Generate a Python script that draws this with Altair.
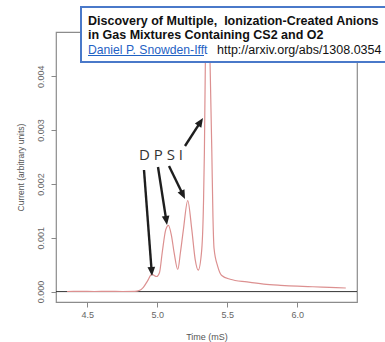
import math
import altair as alt
import pandas as pd

# ---- data ----
time_ms = [4.355, 4.45, 4.55, 4.65, 4.75, 4.84, 4.87, 4.90, 4.93, 4.96, 4.995,
           5.015, 5.035, 5.06, 5.079, 5.10, 5.12, 5.146, 5.165, 5.186, 5.217,
           5.246, 5.27, 5.292, 5.317, 5.33, 5.336, 5.343, 5.358, 5.376, 5.389,
           5.397, 5.405, 5.431, 5.46, 5.52, 5.64, 5.76, 5.88, 6.0, 6.11, 6.23, 6.346]
current = [0.000002, 0.000003, 0.000002, 0.000003, 0.000002, 0.000004, 0.00002,
           0.00008, 0.0002, 0.00032, 0.00028, 0.00035, 0.00073, 0.00115, 0.00123,
           0.00105, 0.00072, 0.00041, 0.00073, 0.00115, 0.00169, 0.00115, 0.0006,
           0.0004, 0.00078, 0.0017, 0.0026, 0.0043, 0.0056, 0.0043, 0.0026,
           0.0014, 0.0008, 0.00047, 0.0003, 0.00023, 0.00018, 0.00014, 0.000117,
           0.0001, 0.00009, 0.000078, 0.000067]

x_ticks = [4.5, 5.0, 5.5, 6.0]
y_ticks = [0.0, 0.001, 0.002, 0.003, 0.004]

peak_labels = "D P S I"
title_line1 = "Discovery of Multiple,\u00a0 Ionization-Created Anions"
title_line2 = "in Gas Mixtures Containing CS2 and O2"
author = "Daniel P. Snowden-Ifft"
link = "http://arxiv.org/abs/1308.0354"

# ---- layout (pixels) ----
W, H = 301, 270
OX, OY = 56, 32  # plot origin in window

df = pd.DataFrame({"t": time_ms, "c": current})

xscale = alt.Scale(domain=[4.276, 6.426], nice=False, zero=False)
yscale = alt.Scale(domain=[-0.000193, 0.00482], nice=False, zero=False)

x_axis = alt.Axis(values=x_ticks, format=".1f", domain=False, grid=False,
                  tickColor="#888888", tickSize=5, tickWidth=1,
                  labelColor="#666666", labelFont="Liberation Sans", labelFontSize=9,
                  labelPadding=3, title="Time (mS)", titleFont="Liberation Sans",
                  titleFontSize=9, titleFontWeight="normal", titleColor="#555555",
                  titleX=W / 2, titleY=34, titleBaseline="middle", titleAlign="center")
y_axis = alt.Axis(values=y_ticks, format=".3f", domain=False, grid=False,
                  tickColor="#888888", tickSize=5, tickWidth=1,
                  labelColor="#666666", labelFont="Liberation Sans", labelFontSize=9,
                  labelAngle=270, labelAlign="center", labelBaseline="bottom",
                  labelPadding=6, title="Current (arbitrary units)",
                  titleFont="Liberation Sans", titleFontSize=8.5,
                  titleFontWeight="normal", titleColor="#555555",
                  titleAngle=270, titleX=-36, titleY=H / 2,
                  titleAlign="center", titleBaseline="middle")

base = alt.Chart(df)

zero_line = alt.Chart(pd.DataFrame({"z": [0.0]})).mark_rule(
    color="#333333", strokeWidth=1).encode(y=alt.Y("z:Q", scale=yscale, axis=y_axis))

curve = base.mark_line(color="#dc9090", strokeWidth=1.2, interpolate="monotone",
                       clip=True).encode(
    x=alt.X("t:Q", scale=xscale, axis=x_axis),
    y=alt.Y("c:Q", scale=yscale, axis=y_axis),
)

# ---- annotation arrows (window pixel coords) ----
arrows = [
    (144, 170, 152, 276),
    (158, 167, 167, 225),
    (169, 166, 185, 199),
    (185, 146, 203, 118),
]
arrow_layers = []
for (x1, y1, x2, y2) in arrows:
    ang = math.degrees(math.atan2(x2 - x1, -(y2 - y1))) % 360
    L = math.hypot(x2 - x1, y2 - y1)
    ex = x2 - (x2 - x1) / L * 6
    ey = y2 - (y2 - y1) / L * 6
    arrow_layers.append(
        alt.Chart(pd.DataFrame({"a": [0]})).mark_rule(
            color="#1e1e1e", strokeWidth=2.4).encode(
            x=alt.value(x1 - OX), y=alt.value(y1 - OY),
            x2=alt.value(ex - OX), y2=alt.value(ey - OY)))
    arrow_layers.append(
        alt.Chart(pd.DataFrame({"a": [0]})).mark_point(
            shape="M0,0L-0.42,1L0.42,1Z", filled=True, color="#1e1e1e",
            opacity=1, size=330, angle=ang).encode(
            x=alt.value(x2 - OX), y=alt.value(y2 - OY)))

letters = alt.Chart(pd.DataFrame({"a": [0]})).mark_text(
    text=peak_labels, font="Open Sans", fontSize=15, color="#333333",
    align="left", baseline="middle").encode(
    x=alt.value(139 - OX), y=alt.value(155 - OY))

# ---- title box ----
box = alt.Chart(pd.DataFrame({"a": [0]})).mark_rect(
    fill="white", stroke="#4a79c9", strokeWidth=2, clip=False).encode(
    x=alt.value(81 - OX), x2=alt.value(400 - OX),
    y=alt.value(7 - OY), y2=alt.value(62 - OY))


def txt(s, x, y, bold=True, color="#111111", size=12.5):
    return alt.Chart(pd.DataFrame({"a": [0]})).mark_text(
        text=s, font="Liberation Sans", fontSize=size,
        fontWeight="bold" if bold else "normal", color=color,
        align="left", baseline="alphabetic").encode(
        x=alt.value(x - OX), y=alt.value(y - OY))


t1 = txt(title_line1, 88, 24.5)
t2 = txt(title_line2, 88, 39)
t3 = txt(author, 88, 53.5, bold=False, color="#1f62c4", size=12.2)
t4 = txt(link, 217, 53.5, bold=False, color="#111111", size=12.5)
underline = alt.Chart(pd.DataFrame({"a": [0]})).mark_rule(
    color="#1f62c4", strokeWidth=1).encode(
    x=alt.value(88 - OX), x2=alt.value(204 - OX),
    y=alt.value(55.5 - OY), y2=alt.value(55.5 - OY))

chart = alt.layer(
    zero_line, curve, *arrow_layers, letters, box, t1, t2, t3, t4, underline
).properties(
    width=W, height=H,
    padding={"left": OX, "top": OY, "right": 385 - OX - W, "bottom": 342 - OY - H},
    autosize=alt.AutoSizeParams(type="none"),
    background="white",
).configure_view(stroke="#8c8c8c", strokeWidth=1.2)

chart.save("out.html", embed_options={"renderer": "svg", "actions": False})
